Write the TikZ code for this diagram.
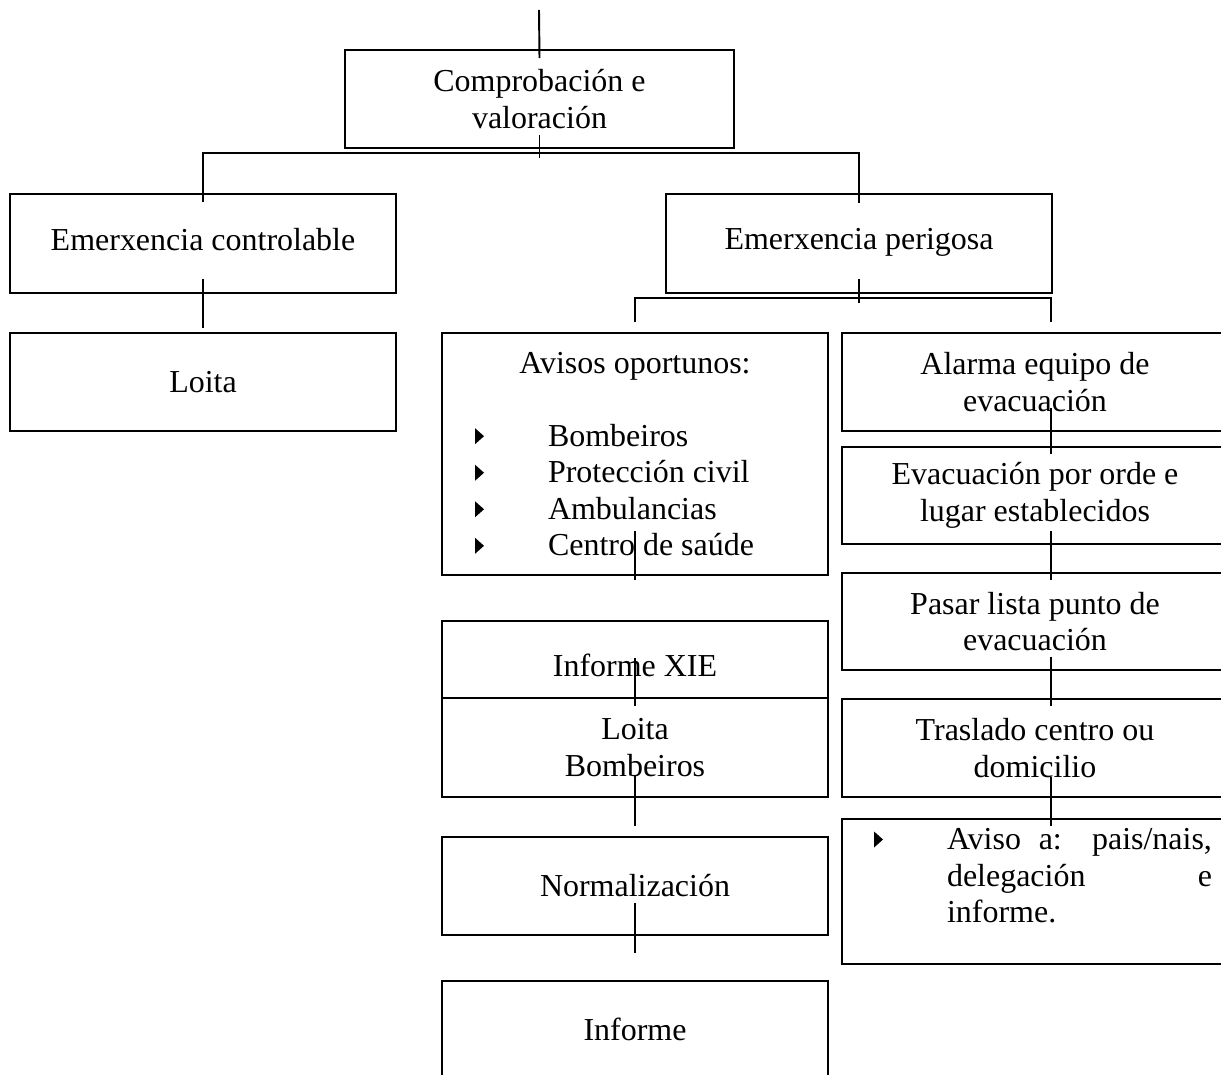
\documentclass[tikz,border=0pt]{standalone}
\usepackage{fontspec}
\setmainfont{Liberation Serif}
\usetikzlibrary{positioning,calc}

\newcommand{\tri}{\tikz[baseline=0pt]\fill (0,0.04cm) -- (0,0.36cm) -- (0.18cm,0.2cm) -- cycle;}
\newcommand{\punto}[1]{\makebox[6.4cm][l]{\makebox[1.46cm][l]{\tri}#1}}

\begin{document}
\begin{tikzpicture}[x=0.02cm, y=-0.02cm, line width=1.1pt,
    every node/.style={font=\fontsize{18.2}{20.8}\selectfont},
    box/.style={draw, minimum width=7.72cm, inner sep=0pt, outer sep=0pt, align=center}]
    \useasboundingbox (0,0) rectangle (1221,1075);

    % Nodes
    \node (comp) at (539.5,99) [box, minimum width=7.78cm, minimum height=1.96cm] {Comprobación e\\valoración};

    \node (ctrl) at (203,243.5) [box, minimum height=1.98cm, text depth=0.18cm] {Emerxencia controlable};
    \node (loita1) [below=0.8cm of ctrl] [box, minimum height=1.96cm] {Loita};

    \node (perig) at (859,243.5) [box, minimum height=1.98cm, text depth=0.18cm] {Emerxencia perigosa};

    \node (avisos) at (635,454) [box, minimum height=4.84cm] {Avisos oportunos:\\[0.732cm]
        \punto{Bombeiros}\\ \punto{Protección civil}\\ \punto{Ambulancias}\\ \punto{Centro de saúde}};
    \node (xie) [below=0.92cm of avisos] [box, minimum height=1.54cm, text height=0.7cm] {Informe XIE};
    \node (loita2) [below=0pt of xie] [box, minimum height=1.98cm] {Loita\\Bombeiros};
    \node (norm) [below=0.8cm of loita2] [box, minimum height=1.96cm] {Normalización};
    \node (inf) [below=0.92cm of norm] [box, minimum height=1.96cm] {Informe};

    \node (alarma) at (1035,382) [box, minimum height=1.96cm] {Alarma equipo de\\evacuación};
    \node (evac) [below=0.32cm of alarma] [box, minimum height=1.94cm] {Evacuación por orde e\\lugar establecidos};
    \node (pasar) [below=0.58cm of evac] [box, minimum height=1.94cm] {Pasar lista punto de\\evacuación};
    \node (tras) [below=0.58cm of pasar] [box, minimum height=1.96cm] {Traslado centro ou\\domicilio};
    \node (aviso) [below=0.44cm of tras] [box, minimum height=2.9cm, text depth=2.1cm]
        {\hspace*{0.32cm}\makebox[1.46cm][l]{\tri}\parbox[t]{5.3cm}{Aviso a: pais/nais,\linebreak delegación e\linebreak informe.}};

    % Lines
    \coordinate (start) at (539,10);
    \coordinate (bus1) at (539,153);
    \coordinate (bus2) at (859,298);
    \coordinate (alarm in) at (1051,322);

    \draw (start) -- ($(comp.north)+(0,8)$);
    \draw ($(comp.south)+(0,-13)$) -- ($(comp.south)+(0,10)$);
    \draw ($(ctrl.north)+(0,8)$) |- (bus1) -| ($(perig.north)+(0,9)$);
    \draw ($(ctrl.south)+(0,-14)$) -- ($(loita1.north)+(0,-5)$);
    \draw ($(perig.south)+(0,-14)$) -- ($(perig.south)+(0,10)$);
    \draw ($(avisos.north)+(0,-11)$) |- (bus2) -| (alarm in);

    \foreach \a/\b/\s/\e in {avisos/xie/-44/-41, xie/loita2/-40/8, loita2/norm/-22/-11, norm/inf/-32/-28}
        \draw ($(\a.south)+(0,\s)$) -- ($(\b.north)+(0,\e)$);
    \foreach \a/\b/\s/\e in {alarma/evac/-23/7, evac/pasar/-13/7, pasar/tras/-13/7, tras/aviso/-20/7}
        \draw ($(\a.south)+(16,\s)$) -- ($(\b.north)+(16,\e)$);
\end{tikzpicture}
\end{document}
